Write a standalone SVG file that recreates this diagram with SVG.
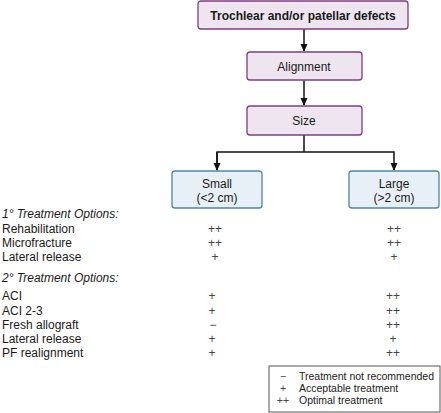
<svg xmlns="http://www.w3.org/2000/svg" width="441" height="413" viewBox="0 0 441 413">
<style>
text{font-family:"Liberation Sans",Arial,sans-serif;font-size:12px;fill:#1a1a1a}
.p{fill:#efe5f0;stroke:#7b3f7d;stroke-width:1.3}
.b{fill:#e7f0f7;stroke:#4d87a8;stroke-width:1.3}
.c{text-anchor:middle}
.i{font-style:italic}
.s{text-anchor:middle;fill:#444}
.l{font-size:10.5px}
.w{stroke:#111;stroke-width:1.5;fill:none}
</style>
<defs>
<marker id="ah" markerWidth="8" markerHeight="8" refX="7" refY="4" orient="auto" markerUnits="userSpaceOnUse">
<path d="M0,0.5 L8,4 L0,7.5 Z" fill="#111"/>
</marker>
</defs>
<rect width="441" height="413" fill="#fff"/>
<g id="connectors">
<line class="w" x1="304" y1="29" x2="304" y2="51" marker-end="url(#ah)"/>
<line class="w" x1="304" y1="80" x2="304" y2="105" marker-end="url(#ah)"/>
<polyline class="w" points="304,135 304,152"/>
<polyline class="w" points="217,170 217,152 394,152 394,170" marker-end="url(#ah)"/>
<line class="w" x1="217" y1="152" x2="217" y2="170" marker-end="url(#ah)"/>
</g>
<g id="n-top">
<rect class="p" x="198" y="1" width="210" height="28" rx="3"/>
<text class="c" x="303" y="20" font-weight="bold">Trochlear and/or patellar defects</text>
</g>
<g id="n-alignment">
<rect class="p" x="247" y="52" width="115" height="28" rx="3"/>
<text class="c" x="304" y="71">Alignment</text>
</g>
<g id="n-size">
<rect class="p" x="247" y="106" width="115" height="29" rx="3"/>
<text class="c" x="304" y="125">Size</text>
</g>
<g id="n-small">
<rect class="b" x="172" y="171" width="90" height="37" rx="3"/>
<text class="c" x="217" y="188">Small</text>
<text class="c" x="217" y="202">(&lt;2 cm)</text>
</g>
<g id="n-large">
<rect class="b" x="349" y="171" width="90" height="37" rx="3"/>
<text class="c" x="394" y="188">Large</text>
<text class="c" x="394" y="202">(&gt;2 cm)</text>
</g>
<g id="table">
<text class="i" x="2" y="218">1° Treatment Options:</text>
<text x="2" y="233">Rehabilitation</text>
<text x="2" y="247">Microfracture</text>
<text x="2" y="261">Lateral release</text>
<text class="i" x="2" y="282">2° Treatment Options:</text>
<text x="2" y="300">ACI</text>
<text x="2" y="315">ACI 2-3</text>
<text x="2" y="329">Fresh allograft</text>
<text x="2" y="343">Lateral release</text>
<text x="2" y="357">PF realignment</text>
<text class="s" x="215" y="233">++</text>
<text class="s" x="215" y="247">++</text>
<text class="s" x="215" y="261">+</text>
<text class="s" x="212" y="300">+</text>
<text class="s" x="212" y="315">+</text>
<text class="s" x="213" y="329">−</text>
<text class="s" x="212" y="343">+</text>
<text class="s" x="212" y="357">+</text>
<text class="s" x="394" y="233">++</text>
<text class="s" x="394" y="247">++</text>
<text class="s" x="394" y="261">+</text>
<text class="s" x="393" y="300">++</text>
<text class="s" x="393" y="315">++</text>
<text class="s" x="393" y="329">++</text>
<text class="s" x="393" y="343">+</text>
<text class="s" x="393" y="357">++</text>
</g>
<g id="legend">
<rect x="269" y="366" width="171" height="46" fill="#fff" stroke="#555" stroke-width="1"/>
<text class="s l" x="283" y="380">−</text>
<text class="s l" x="283" y="392">+</text>
<text class="s l" x="283" y="404">++</text>
<text class="l" x="299" y="380">Treatment not recommended</text>
<text class="l" x="299" y="392">Acceptable treatment</text>
<text class="l" x="299" y="404">Optimal treatment</text>
</g>
</svg>
